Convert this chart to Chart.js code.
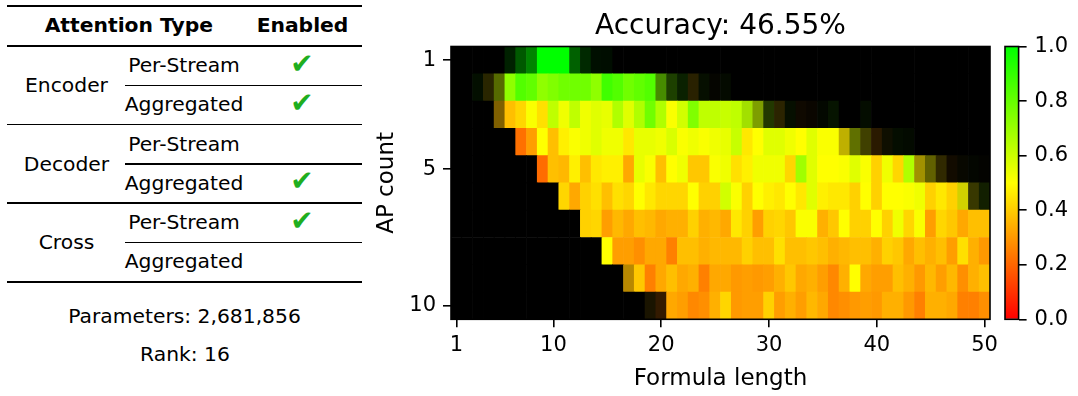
<!DOCTYPE html>
<html>
<head>
<meta charset="utf-8">
<script src="https://cdn.jsdelivr.net/npm/chart.js@4.4.1/dist/chart.umd.min.js"></script>
<style>
  html, body { margin: 0; padding: 0; background: #fff; }
  body { width: 1078px; height: 396px; position: relative; overflow: hidden;
         font-family: 'DejaVu Sans', sans-serif; color: #000; }
  .t { position: absolute; transform: translate(-50%, -50%); white-space: nowrap;
       font-size: 20.3px; line-height: 1; }
  .b { font-weight: bold; }
  .chk { color: #1fae1f; font-size: 28px; }
  .rule { position: absolute; background: #000; }
  #main { position: absolute; left: 360px; top: 0; }
  #cbar { position: absolute; left: 995px; top: 0; }
</style>
</head>
<body>
<div id="table"></div>
<canvas id="main" width="650" height="396"></canvas>
<canvas id="cbar" width="83" height="396"></canvas>
<script>
// ---------------- data ----------------
const _ = null;
const chartTitle = 'Accuracy: 46.55%';
const xAxisTitle = 'Formula length';
const yAxisTitle = 'AP count';
const formulaLengths = [1,2,3,4,5,6,7,8,9,10,11,12,13,14,15,16,17,18,19,20,
  21,22,23,24,25,26,27,28,29,30,31,32,33,34,35,36,37,38,39,40,
  41,42,43,44,45,46,47,48,49,50];
const apCounts = [1,2,3,4,5,6,7,8,9,10];
const xTickValues = [1,10,20,30,40,50];
const yTickValues = [1,5,10];
const colorbarTicks = [0,0.2,0.4,0.6,0.8,1.0];

// accuracy per (AP count row, formula length column); null = no samples
const accuracy = [
  [_,_,_,_,_,1,1,1,1,1, 1,1,1,1,1,_,_,_,_,_, _,_,_,_,_,_,_,_,_,_, _,_,_,_,_,_,_,_,_,_, _,_,_,_,_,_,_,_,_,_],
  [_,_,.9,.47,.6,.72,.84,.81,.72,.75, .78,.78,.78,.72,.875,.84,.78,.81,.84,.75, .77,.85,.4,.8,.5,.8,_,_,_,_, _,_,_,_,_,_,_,_,_,_, _,_,_,_,_,_,_,_,_,_],
  [_,_,_,_,.375,.375,.42,.51,.44,.625, .53,.625,.53,.56,.545,.655,.56,.655,.78,.655, .51,.59,.75,.625,.625,.61,.625,.64,.6,.7, .42,.8,.3,.3,.8,.85,_,_,.85,_, _,_,_,_,_,_,_,_,_,_],
  [_,_,_,_,_,_,.22,.31,.5,.375, .47,.51,.53,.56,.53,.53,.455,.545,.545,.53, .575,.51,.53,.51,.53,.545,.61,.455,.5,.56, .56,.53,.5,.56,.51,.51,.46,.57,.5,.31, .5,.85,.85,_,_,_,_,_,_,_],
  [_,_,_,_,_,_,_,_,.21,.375, .36,.47,.375,.455,.47,.47,.33,.545,.51,.375, .5,.53,.39,.39,.51,.53,.44,.47,.53,.53, .53,.42,.686,.56,.5,.5,.51,.56,.51,.41, .53,.42,.655,.45,.5,.42,.3,.5,.8,.5],
  [_,_,_,_,_,_,_,_,_,_, .42,.33,.41,.44,.375,.44,.42,.5,.455,.42, .42,.42,.5,.41,.41,.59,.51,.41,.5,.47, .455,.5,.455,.56,.47,.455,.455,.41,.5,.41, .5,.5,.51,.53,.41,.455,.41,.5,.5,.7],
  [_,_,_,_,_,_,_,_,_,_, _,_,.41,.42,.31,.36,.33,.375,.36,.33, .345,.345,.41,.345,.36,.33,.455,.41,.31,.41, .42,.39,.51,.51,.345,.39,.5,.41,.41,.5, .41,.53,.42,.51,.31,.42,.39,.33,.375,.375],
  [_,_,_,_,_,_,_,_,_,_, _,_,_,_,.5,.31,.31,.28,.33,.33, .25,.375,.375,.345,.36,.36,.36,.41,.375,.375, .44,.375,.375,.39,.375,.345,.36,.375,.375,.345, .41,.39,.33,.375,.345,.375,.31,.44,.345,.3],
  [_,_,_,_,_,_,_,_,_,_, _,_,_,_,_,_,.37,.39,.25,.33, .375,.33,.345,.25,.33,.33,.3,.31,.3,.31, .345,.39,.33,.345,.31,.267,.345,.5,.33,.31, .31,.375,.345,.3,.36,.31,.36,.28,.345,.375],
  [_,_,_,_,_,_,_,_,_,_, _,_,_,_,_,_,_,_,.4,.25, .33,.31,.267,.28,.345,.42,.3,.31,.31,.41, .31,.345,.31,.36,.33,.267,.28,.3,.31,.3, .345,.345,.3,.25,.345,.345,.33,.25,.25,.28]
];

// relative sample weight per cell (cells fade to black as samples get scarce)
const sampleWeight = [
  [0,0,0,0,0,.13,.35,.52,1,1, 1,.38,.16,.06,.05,0,0,0,0,0, 0,0,0,0,0,0,0,0,0,0, 0,0,0,0,0,0,0,0,0,0, 0,0,0,0,0,0,0,0,0,0],
  [0,0,.06,.16,.42,1,1,1,1,1, 1,1,1,1,1,1,1,1,1,.55, .25,.13,.16,.06,.02,.04,0,0,0,0, 0,0,0,0,0,0,0,0,0,0, 0,0,0,0,0,0,0,0,0,0],
  [0,0,0,0,.5,1,1,1,1,1, 1,1,1,1,1,1,1,1,1,1, 1,1,1,1,1,1,1,.88,.62,.22, .17,.06,.06,.04,.03,.08,0,0,.05,0, 0,0,0,0,0,0,0,0,0,0],
  [0,0,0,0,0,0,1,1,1,1, 1,1,1,1,1,1,1,1,1,1, 1,1,1,1,1,1,1,1,1,1, 1,1,1,1,1,1,.75,.44,.25,.165, .06,.05,.04,0,0,0,0,0,0,0],
  [0,0,0,0,0,0,0,0,1,1, 1,1,1,1,1,1,1,1,1,1, 1,1,1,1,1,1,1,1,1,1, 1,1,1,1,1,1,1,1,1,1, 1,1,1,.63,.38,.19,.07,.03,.025,.01],
  [0,0,0,0,0,0,0,0,0,0, 1,1,1,1,1,1,1,1,1,1, 1,1,1,1,1,1,1,1,1,1, 1,1,1,1,1,1,1,1,1,1, 1,1,1,1,1,1,1,.82,.22,.12],
  [0,0,0,0,0,0,0,0,0,0, 0,0,1,1,1,1,1,1,1,1, 1,1,1,1,1,1,1,1,1,1, 1,1,1,1,1,1,1,1,1,1, 1,1,1,1,1,1,1,1,1,1],
  [0,0,0,0,0,0,0,0,0,0, 0,0,0,0,1,1,1,1,1,1, 1,1,1,1,1,1,1,1,1,1, 1,1,1,1,1,1,1,1,1,1, 1,1,1,1,1,1,1,1,1,1],
  [0,0,0,0,0,0,0,0,0,0, 0,0,0,0,0,0,.72,1,1,1, 1,1,1,1,1,1,1,1,1,1, 1,1,1,1,1,1,1,1,1,1, 1,1,1,1,1,1,1,1,1,1],
  [0,0,0,0,0,0,0,0,0,0, 0,0,0,0,0,0,0,0,.1,.2, 1,1,1,1,1,1,1,1,1,1, 1,1,1,1,1,1,1,1,1,1, 1,1,1,1,1,1,1,1,1,1]
];

// configuration table
const tableHeaders = ['Attention Type', 'Enabled'];
const attentionGroups = ['Encoder', 'Decoder', 'Cross'];
const attentionKinds = ['Per-Stream', 'Aggregated'];
const enabledFlags = [[true, true], [false, true], [true, false]];
const parameterText = 'Parameters: 2,681,856';
const rankText = 'Rank: 16';

// ---------------- table (HTML) ----------------
(function buildTable() {
  const root = document.getElementById('table');
  const ruleL = 7.3, ruleR = 361.7, subL = 125;
  const groupTops = [46, 124.6, 203.1], tableBottom = 281.7;
  function text(str, x, y, cls) {
    const d = document.createElement('div');
    d.className = 't ' + (cls || '');
    d.textContent = str;
    d.style.left = x + 'px'; d.style.top = y + 'px';
    root.appendChild(d);
  }
  function rule(x1, x2, y, w) {
    const d = document.createElement('div');
    d.className = 'rule';
    d.style.left = x1 + 'px'; d.style.width = (x2 - x1) + 'px';
    d.style.top = (y - w / 2) + 'px'; d.style.height = w + 'px';
    root.appendChild(d);
  }
  rule(ruleL, ruleR, 6.3, 2);
  text(tableHeaders[0], 128.8, 25.2, 'b');
  text(tableHeaders[1], 302.5, 25.2, 'b');
  attentionGroups.forEach((g, gi) => {
    const top = groupTops[gi];
    rule(ruleL, ruleR, top, 1.5);
    text(g, 66.5, top + 39.3);
    attentionKinds.forEach((k, ki) => {
      const cy = top + (ki === 0 ? 19 : 58);
      text(k, 184, cy);
      if (enabledFlags[gi][ki]) text('\u2714', 302, cy - 1.5, 'chk');
    });
    rule(subL, ruleR, top + 39.3, 1.5);
  });
  rule(ruleL, ruleR, tableBottom, 2);
  text(parameterText, 184.5, 315.7);
  text(rankText, 185, 354.3);
})();

// ---------------- colour map ----------------
function cmap(v) { // red -> yellow -> green
  v = Math.max(0, Math.min(1, v));
  return v < 0.5 ? [255, 510 * v, 0] : [510 * (1 - v), 255, 0];
}
function cellColor(acc, w) {
  if (acc === null || !w) return '#000000';
  const c = cmap(acc);
  return 'rgb(' + Math.round(c[0] * w) + ',' + Math.round(c[1] * w) + ',' + Math.round(c[2] * w) + ')';
}

Chart.defaults.font.family = "'DejaVu Sans', sans-serif";
Chart.defaults.color = '#000';

const framePlugin = {
  id: 'frame',
  afterDraw(chart) {
    const { ctx, chartArea: a } = chart;
    ctx.save();
    ctx.strokeStyle = '#000';
    ctx.lineWidth = 1.6;
    ctx.strokeRect(a.left, a.top, a.right - a.left, a.bottom - a.top);
    ctx.restore();
  }
};

// title centred over the plot area (as in the reference)
const plotTitlePlugin = {
  id: 'plotTitle',
  afterDraw(chart, args, opts) {
    const { ctx, chartArea: a } = chart;
    ctx.save();
    ctx.font = opts.size + "px 'DejaVu Sans', sans-serif";
    ctx.fillStyle = '#000';
    ctx.textAlign = 'center';
    ctx.textBaseline = 'middle';
    ctx.fillText(opts.text, (a.left + a.right) / 2, opts.y);
    ctx.restore();
  }
};

// ---------------- heatmap ----------------
const cells = [];
apCounts.forEach((ap, r) => formulaLengths.forEach((len, c) => {
  cells.push({ x: len, y: [ap - 0.5, ap + 0.5], acc: accuracy[r][c], w: sampleWeight[r][c] });
}));

const tickGrid = { display: true, drawOnChartArea: false, drawTicks: true, tickLength: 8,
  color: '#000', tickColor: '#000', lineWidth: 1.6, tickWidth: 1.6, offset: false };

new Chart(document.getElementById('main'), {
  type: 'bar',
  data: { datasets: [{
    data: cells,
    backgroundColor: ctx => ctx.raw ? cellColor(ctx.raw.acc, ctx.raw.w) : '#000',
    borderWidth: 0, barPercentage: 1, categoryPercentage: 1, grouped: false
  }] },
  options: {
    responsive: false, animation: false,
    layout: { padding: { left: 0, right: 20, top: 46.5, bottom: 0 } },
    plugins: {
      legend: { display: false }, tooltip: { enabled: false }, title: { display: false },
      plotTitle: { text: chartTitle, size: 28, y: 26.5 }
    },
    scales: {
      x: {
        type: 'linear', min: 0.5, max: 50.5, offset: false,
        afterBuildTicks: s => { s.ticks = xTickValues.map(v => ({ value: v })); },
        afterFit: s => { s.height = 76.7; },
        grid: tickGrid, border: { display: false },
        ticks: { color: '#000', font: { size: 21 }, padding: 6, autoSkip: false, maxRotation: 0,
          callback: v => String(v) },
        title: { display: true, text: xAxisTitle, color: '#000',
          font: { size: 23, lineHeight: 1 }, padding: { top: 0, bottom: 5 } }
      },
      y: {
        type: 'linear', reverse: true, min: 0.5, max: 10.5, offset: false,
        afterBuildTicks: s => { s.ticks = yTickValues.map(v => ({ value: v })); },
        afterFit: s => { s.width = 91; },
        grid: tickGrid, border: { display: false },
        ticks: { color: '#000', font: { size: 21 }, padding: 7, autoSkip: false,
          callback: v => String(v) },
        title: { display: true, text: yAxisTitle, color: '#000',
          font: { size: 23, lineHeight: 1 }, padding: { top: 16, bottom: 0 } }
      }
    }
  },
  plugins: [framePlugin, plotTitlePlugin]
});

// ---------------- colour bar ----------------
new Chart(document.getElementById('cbar'), {
  type: 'bar',
  data: { labels: ['accuracy'], datasets: [{
    data: [[colorbarTicks[0], colorbarTicks[colorbarTicks.length - 1]]],
    backgroundColor: ctx => {
      const a = ctx.chart.chartArea;
      if (!a) return '#ffff00';
      const g = ctx.chart.ctx.createLinearGradient(0, a.bottom, 0, a.top);
      g.addColorStop(0, 'rgb(255,0,0)');
      g.addColorStop(0.5, 'rgb(255,255,0)');
      g.addColorStop(1, 'rgb(0,255,0)');
      return g;
    },
    borderWidth: 0, barPercentage: 1, categoryPercentage: 1
  }] },
  options: {
    responsive: false, animation: false,
    layout: { padding: { left: 10, right: 0, top: 46.5, bottom: 76.7 } },
    plugins: { legend: { display: false }, tooltip: { enabled: false }, title: { display: false } },
    scales: {
      x: { display: false, offset: true },
      y: {
        position: 'right', min: 0, max: 1,
        afterBuildTicks: s => { s.ticks = colorbarTicks.map(v => ({ value: v })); },
        afterFit: s => { s.width = 59.4; },
        grid: tickGrid, border: { display: false },
        ticks: { color: '#000', font: { size: 21 }, padding: 8, autoSkip: false,
          callback: v => Number(v).toFixed(1) }
      }
    }
  },
  plugins: [framePlugin]
});
</script>
</body>
</html>
